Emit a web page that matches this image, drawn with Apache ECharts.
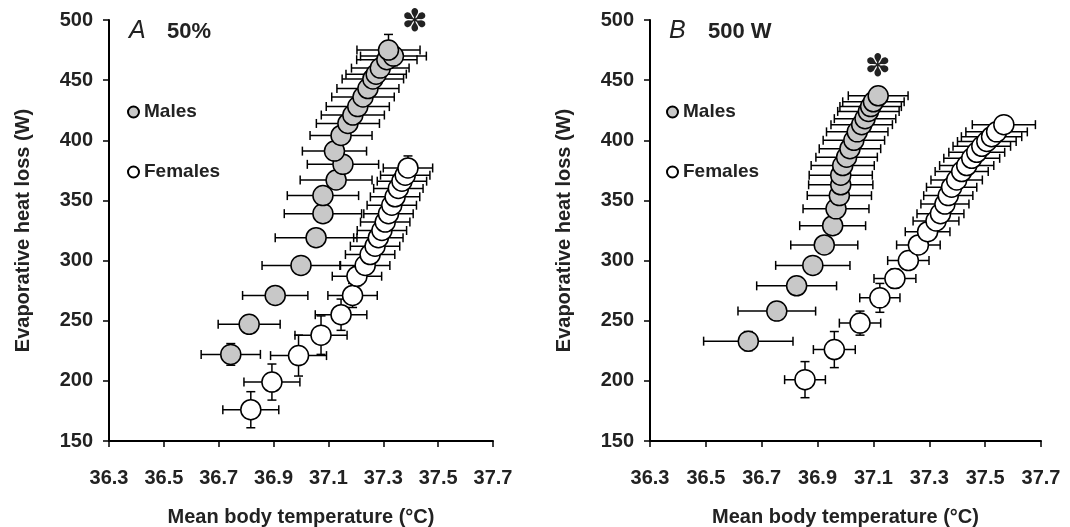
<!DOCTYPE html>
<html>
<head>
<meta charset="utf-8">
<script src="https://cdn.jsdelivr.net/npm/echarts@6/dist/echarts.min.js"></script>
<style>
  html, body { margin: 0; padding: 0; background: #fff; }
  #chart { width: 1070px; height: 527px; }
</style>
</head>
<body>
<div id="chart"></div>
<script>
// Panel A (50%) - males
var tempAm = [36.744, 36.811, 36.906, 37.000, 37.055, 37.080, 37.080, 37.128, 37.153, 37.122, 37.146, 37.171, 37.189, 37.207, 37.226, 37.244, 37.262, 37.274, 37.289, 37.313, 37.337, 37.319];
var heatAm = [222, 247, 271, 296, 319, 339, 354, 367, 380, 391, 404, 414, 421, 428, 436, 443, 451, 455, 460, 467, 470, 475];
var tempErrAm = [0.108, 0.113, 0.119, 0.142, 0.149, 0.141, 0.13, 0.131, 0.13, 0.117, 0.113, 0.115, 0.115, 0.115, 0.114, 0.113, 0.112, 0.11, 0.105, 0.11, 0.12, 0.115];
var heatErrAm = [9, 6, 5, 5, 5, 5, 5, 5, 5, 5, 5, 5, 5, 5, 5, 5, 5, 5, 6, 7, 8, 13];

// Panel A (50%) - females
var tempAf = [36.817, 36.894, 36.991, 37.073, 37.146, 37.188, 37.204, 37.234, 37.252, 37.270, 37.282, 37.295, 37.307, 37.319, 37.331, 37.343, 37.355, 37.368, 37.380, 37.390];
var heatAf = [176, 199, 221, 238, 255, 271, 287, 296, 305, 312, 319, 325, 332, 339, 346, 353, 360, 366, 371, 377];
var tempErrAf = [0.102, 0.102, 0.102, 0.095, 0.094, 0.09, 0.09, 0.09, 0.09, 0.09, 0.09, 0.09, 0.09, 0.09, 0.09, 0.09, 0.09, 0.09, 0.09, 0.09];
var heatErrAf = [15, 15, 17, 16, 13, 10, 8, 7, 6, 6, 6, 6, 6, 6, 6, 6, 6, 7, 8, 10];

// Panel B (500 W) - males
var tempBm = [36.652, 36.754, 36.825, 36.883, 36.924, 36.954, 36.966, 36.978, 36.983, 36.983, 36.990, 37.004, 37.016, 37.030, 37.042, 37.058, 37.070, 37.082, 37.090, 37.100, 37.117];
var heatBm = [233, 258, 279, 296, 313, 329, 343, 354, 363, 371, 379, 386, 393, 400, 407, 413, 418, 424, 428, 432, 437];
var tempErrBm = [0.16, 0.139, 0.143, 0.133, 0.12, 0.118, 0.118, 0.115, 0.115, 0.113, 0.113, 0.11, 0.11, 0.11, 0.11, 0.11, 0.11, 0.11, 0.11, 0.11, 0.107];
var heatErrBm = [8, 5, 5, 5, 5, 5, 5, 5, 5, 5, 5, 5, 5, 5, 5, 5, 5, 5, 5, 5, 6];

// Panel B (500 W) - females
var tempBf = [36.855, 36.960, 37.052, 37.123, 37.177, 37.225, 37.261, 37.294, 37.324, 37.340, 37.356, 37.368, 37.380, 37.398, 37.416, 37.434, 37.452, 37.470, 37.488, 37.506, 37.523, 37.541, 37.567];
var heatBf = [201, 226, 248, 269, 285, 300, 313, 324, 333, 339, 347, 354, 361, 367, 374, 379, 385, 390, 395, 399, 403, 407, 413];
var tempErrBf = [0.073, 0.075, 0.074, 0.072, 0.075, 0.074, 0.078, 0.08, 0.082, 0.084, 0.086, 0.088, 0.09, 0.092, 0.095, 0.097, 0.1, 0.1, 0.103, 0.105, 0.108, 0.11, 0.113];
var heatErrBf = [15, 15, 10, 12, 8, 6, 6, 6, 6, 6, 6, 6, 6, 6, 6, 6, 6, 6, 6, 6, 6, 6, 7];

var xTicks = [36.3, 36.5, 36.7, 36.9, 37.1, 37.3, 37.5, 37.7];
var yTicks = [150, 200, 250, 300, 350, 400, 450, 500];

var FONT = '"Liberation Sans", Arial, sans-serif';
var TEXT = '#222';
var MALE_FILL = '#c8c8c8';

var chart = echarts.init(document.getElementById('chart'));

function rows(t, h, te, he) {
  return t.map(function (v, i) { return [v, h[i], te[i], he[i]]; });
}

// horizontal + vertical error bars with caps
function renderErr(params, api) {
  var x = api.value(0), y = api.value(1), dx = api.value(2), dy = api.value(3);
  var l = api.coord([x - dx, y]), r = api.coord([x + dx, y]);
  var b = api.coord([x, y - dy]), t = api.coord([x, y + dy]);
  var c = 4.5;
  var style = { stroke: '#000', lineWidth: 1.5 };
  function seg(p, q) {
    return { type: 'line', shape: { x1: p[0], y1: p[1], x2: q[0], y2: q[1] }, style: style };
  }
  return {
    type: 'group',
    children: [
      seg(l, r),
      seg([l[0], l[1] - c], [l[0], l[1] + c]),
      seg([r[0], r[1] - c], [r[0], r[1] + c]),
      seg(b, t),
      seg([b[0] - c, b[1]], [b[0] + c, b[1]]),
      seg([t[0] - c, t[1]], [t[0] + c, t[1]])
    ]
  };
}

function xAxis(idx) {
  return {
    type: 'value', gridIndex: idx,
    min: xTicks[0], max: xTicks[xTicks.length - 1], interval: 0.2,
    name: 'Mean body temperature (\u00B0C)', nameLocation: 'middle', nameGap: 66,
    nameTextStyle: { fontSize: 20, fontWeight: 'bold', color: TEXT, fontFamily: FONT },
    axisLine: { show: true, lineStyle: { color: '#000', width: 2 } },
    axisTick: { show: true, inside: false, length: 6, lineStyle: { color: '#000', width: 1.5 } },
    axisLabel: {
      margin: 27, fontSize: 20, fontWeight: 'bold', color: TEXT, fontFamily: FONT,
      showMinLabel: true, showMaxLabel: true, hideOverlap: false,
      formatter: function (v) { return v.toFixed(1); }
    },
    splitLine: { show: false }
  };
}

function yAxis(idx) {
  return {
    type: 'value', gridIndex: idx,
    min: yTicks[0], max: yTicks[yTicks.length - 1], interval: 50,
    name: 'Evaporative heat loss (W)', nameLocation: 'middle', nameGap: 76,
    nameTextStyle: { fontSize: 20, fontWeight: 'bold', color: TEXT, fontFamily: FONT },
    axisLine: { show: true, lineStyle: { color: '#000', width: 2 } },
    axisTick: { show: true, inside: false, length: 6, lineStyle: { color: '#000', width: 1.5 } },
    axisLabel: { margin: 16, fontSize: 20, fontWeight: 'bold', color: TEXT, fontFamily: FONT },
    splitLine: { show: false }
  };
}

function errSeries(name, idx, data) {
  return {
    name: name, type: 'custom', xAxisIndex: idx, yAxisIndex: idx,
    renderItem: renderErr, data: data, encode: { x: 0, y: 1 },
    silent: true, z: 2
  };
}

function dotSeries(name, idx, t, h, fill) {
  return {
    name: name, type: 'scatter', xAxisIndex: idx, yAxisIndex: idx,
    data: t.map(function (v, i) { return [v, h[i]]; }),
    symbol: 'circle', symbolSize: 20,
    itemStyle: { color: fill, borderColor: '#000', borderWidth: 1.5, opacity: 1 },
    emphasis: { disabled: true },
    silent: true, z: 3
  };
}

function legend(left) {
  return {
    left: left, top: 97, orient: 'vertical',
    itemWidth: 11, itemHeight: 11, itemGap: 40,
    selectedMode: false,
    data: ['Males', 'Females'],
    textStyle: { fontSize: 19, fontWeight: 'bold', color: TEXT, fontFamily: FONT, lineHeight: 20 }
  };
}

function label(x, y, text, font) {
  return { type: 'text', x: x, y: y, silent: true,
    style: { text: text, font: font, fill: TEXT, verticalAlign: 'middle', align: 'left' } };
}

function star(x, y) {
  return { type: 'text', x: x, y: y, silent: true,
    style: { text: '\u273D', font: '31px "DejaVu Sans"', fill: '#222', align: 'center', verticalAlign: 'middle' } };
}

var option = {
  animation: false,
  backgroundColor: '#fff',
  grid: [
    { left: 109, top: 20, width: 384, height: 421, containLabel: false, outerBoundsMode: 'none' },
    { left: 650, top: 20, width: 391, height: 421, containLabel: false, outerBoundsMode: 'none' }
  ],
  xAxis: [xAxis(0), xAxis(1)],
  yAxis: [yAxis(0), yAxis(1)],
  legend: [legend(122), legend(661)],
  series: [
    errSeries('errAm', 0, rows(tempAm, heatAm, tempErrAm, heatErrAm)),
    errSeries('errAf', 0, rows(tempAf, heatAf, tempErrAf, heatErrAf)),
    errSeries('errBm', 1, rows(tempBm, heatBm, tempErrBm, heatErrBm)),
    errSeries('errBf', 1, rows(tempBf, heatBf, tempErrBf, heatErrBf)),
    dotSeries('Males', 0, tempAm, heatAm, MALE_FILL),
    dotSeries('Females', 0, tempAf, heatAf, '#fff'),
    dotSeries('Males', 1, tempBm, heatBm, MALE_FILL),
    dotSeries('Females', 1, tempBf, heatBf, '#fff')
  ],
  graphic: [
    label(129, 31, 'A', 'italic 25px ' + FONT),
    label(167, 32, '50%', 'bold 22px ' + FONT),
    label(669, 31, 'B', 'italic 25px ' + FONT),
    label(708, 32, '500 W', 'bold 22px ' + FONT),
    star(415, 23),
    star(878, 68)
  ]
};

chart.setOption(option);
</script>
</body>
</html>
